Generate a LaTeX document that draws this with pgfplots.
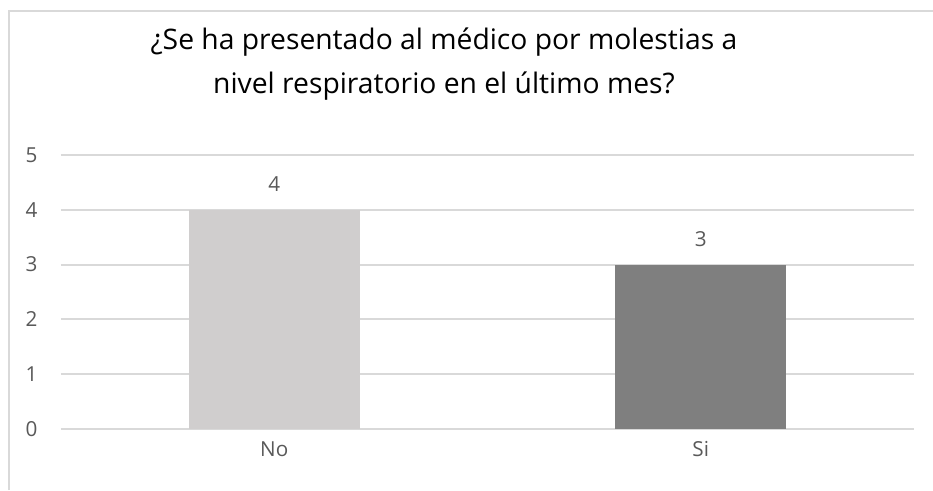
\documentclass[border=0pt]{standalone}
\usepackage{fontspec}
\setmainfont{Open Sans}
\usepackage{pgfplots}
\pgfplotsset{compat=1.18}
\definecolor{barNo}{HTML}{D0CECE}
\definecolor{barSi}{HTML}{7F7F7F}
\definecolor{gridc}{HTML}{D9D9D9}
\definecolor{txt}{HTML}{595959}
\begin{document}
\begin{tikzpicture}
\useasboundingbox (0,0) rectangle (699.75pt,367.5pt);
\fill[white] (0,0) rectangle (699.75pt,367.5pt);
\draw[gridc, line width=1.5pt] (6.75pt,0) -- (6.75pt,359.25pt) -- (699.75pt,359.25pt);
\begin{axis}[
  at={(45.75pt,45.75pt)}, anchor=south west, scale only axis,
  width=639.75pt, height=205.5pt,
  xmin=-0.5, xmax=1.5, ymin=0, ymax=5,
  axis line style={draw=none},
  major tick length=0pt,
  ymajorgrids, grid style={gridc, line width=1.5pt},
  xtick={0,1}, xticklabels={No,Si},
  ytick={0,1,2,3,4,5},
  /pgf/number format/assume math mode=true,
  tick label style={font=\fontsize{15.5}{19}\selectfont, text=txt},
  xticklabel style={anchor=center, yshift=-15pt},
  yticklabel style={anchor=east, inner sep=0pt, xshift=-17.5pt},
  ybar, bar width=128.25pt, bar shift=0pt,
  nodes near coords,
  nodes near coords style={font=\fontsize{15.5}{19}\selectfont, text=txt, anchor=center, yshift=19pt},
  clip=false,
]
\addplot[fill=barNo, draw=none] coordinates {(0,4)};
\addplot[fill=barSi, draw=none] coordinates {(1,3)};
\end{axis}
\node[anchor=base, font=\fontsize{21.2}{33}\selectfont] at (333pt,330pt) {¿Se ha presentado al médico por molestias a};
\node[anchor=base, font=\fontsize{21.2}{33}\selectfont] at (333pt,297pt) {nivel respiratorio en el último mes?};
\end{tikzpicture}
\end{document}
